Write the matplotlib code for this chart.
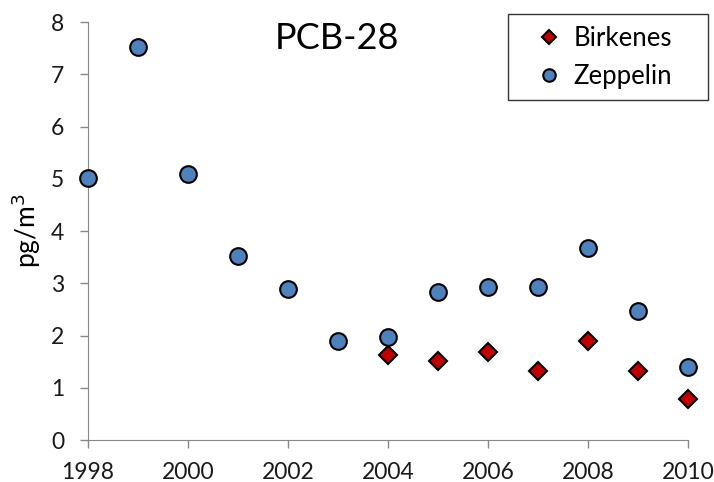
import numpy as np
import matplotlib.pyplot as plt

plt.rcParams['font.family'] = ['Lato', 'DejaVu Sans']

years_b = [2004, 2005, 2006, 2007, 2008, 2009, 2010]
birkenes = [1.63, 1.52, 1.68, 1.32, 1.90, 1.32, 0.78]

years_z = [1998, 1999, 2000, 2001, 2002, 2003, 2004, 2005, 2006, 2007, 2008, 2009, 2010]
zeppelin = [5.01, 7.52, 5.09, 3.52, 2.89, 1.89, 1.97, 2.83, 2.93, 2.93, 3.67, 2.47, 1.40]

xticks = [1998, 2000, 2002, 2004, 2006, 2008, 2010]
yticks = [0, 1, 2, 3, 4, 5, 6, 7, 8]

fig = plt.figure(figsize=(7.14, 4.82), dpi=100)
ax = fig.add_axes([0.123, 0.087, 0.841, 0.867])

ax.plot(years_b, birkenes, 'D', ms=9, color='#C00000', mec='black', mew=1.5,
        label='Birkenes', zorder=3, clip_on=False)
ax.plot(years_z, zeppelin, 'o', ms=12, color='#4F81BD', mec='black', mew=1.5,
        label='Zeppelin', zorder=3, clip_on=False)

ax.set_xlim(1998, 2010)
ax.set_ylim(0, 8)
ax.set_xticks(xticks)
ax.set_yticks(yticks)
ax.tick_params(labelsize=16.5, labelcolor='#1a1a1a', length=6, width=1, direction='out',
               color='#888888')
ax.tick_params(axis='y', pad=11)
ax.tick_params(axis='x', pad=10)
for s in ['top', 'right']:
    ax.spines[s].set_visible(False)
for s in ['left', 'bottom']:
    ax.spines[s].set_color('#888888')

ax.set_ylabel('pg/m$^3$', fontsize=19, labelpad=6)
ax.text(0.415, 1.0, 'PCB-28', transform=ax.transAxes, ha='center', va='top', fontsize=26)

# legend box spans fixed region (upper right, slightly outside the axes)
leg = ax.legend(loc='upper left', bbox_to_anchor=(0.70, 1.019, 0.333, 0.0), mode='expand',
                fontsize=18.5, frameon=True, fancybox=False, edgecolor='black',
                handlelength=2.3, handletextpad=-0.2, markerscale=0.75,
                borderpad=0.45, labelspacing=0.5, borderaxespad=0)
leg.get_frame().set_linewidth(1.0)

fig.savefig('out.png', dpi=100)
